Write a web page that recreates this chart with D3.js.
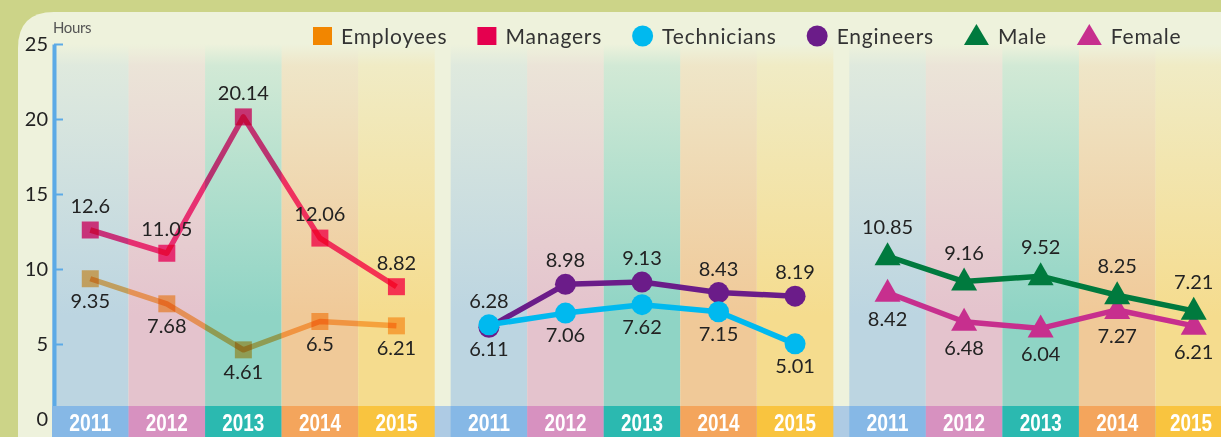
<!DOCTYPE html>
<html>
<head>
<meta charset="utf-8">
<script src="https://cdn.jsdelivr.net/npm/d3@7"></script>
<style>
  html, body { margin: 0; padding: 0; background: #ccd488; }
  svg { display: block; }
  text { font-family: Lato, "Noto Sans", sans-serif; }
</style>
</head>
<body>
<div id="chart"></div>
<script>
// Chart values
const years = ["2011", "2012", "2013", "2014", "2015"];
const employees = [9.35, 7.68, 4.61, 6.5, 6.21];
const managers = [12.6, 11.05, 20.14, 12.06, 8.82];
const technicians = [6.28, 7.06, 7.62, 7.15, 5.01];
const engineers = [6.11, 8.98, 9.13, 8.43, 8.19];
const male = [10.85, 9.16, 9.52, 8.25, 7.21];
const female = [8.42, 6.48, 6.04, 7.27, 6.21];
const yTicks = [0, 5, 10, 15, 20, 25];

const WIDTH = 1221;
const HEIGHT = 437;
const BAND_TOP = 406;

// colours of the year columns (light) and of the year band (strong)
const COLUMN_COLORS = ["#bcd5e1", "#e4c3cd", "#8fd4c5", "#f0c998", "#f5dc8e"];
const BAND_COLORS = ["#86b8e6", "#d791c0", "#2bb9b0", "#f4a55c", "#f9c43f"];

// series table, built from the arrays above
const series = [
  { name: "Employees", values: employees, partner: managers, group: 0, shape: "square", color: "#f28600", line: "#ffbc6c", blend: true },
  { name: "Managers", values: managers, partner: employees, group: 0, shape: "square", color: "#e5004f", line: "#ff3a8a", blend: true },
  { name: "Engineers", values: engineers, partner: technicians, group: 1, shape: "circle", color: "#6b1c89", line: "#6b1c89" },
  { name: "Technicians", values: technicians, partner: engineers, group: 1, shape: "circle", color: "#00b9ef", line: "#00b9ef" },
  { name: "Female", values: female, partner: male, group: 2, shape: "triangle", color: "#c72f8e", line: "#c72f8e" },
  { name: "Male", values: male, partner: female, group: 2, shape: "triangle", color: "#007a3e", line: "#007a3e" }
];
const legendOrder = ["Employees", "Managers", "Technicians", "Engineers", "Male", "Female"];

const svg = d3.select("#chart").append("svg")
  .attr("width", WIDTH)
  .attr("height", HEIGHT);

const defs = svg.append("defs");

// Scales
const y = d3.scaleLinear().domain([0, 25]).range([419, 44]);
const xGroup = d3.scaleBand().domain([0, 1, 2]).range([52, 1232]).paddingInner(0.04);
const xYear = d3.scaleBand().domain(years).range([0, xGroup.bandwidth()]);
const cx = (g, yr) => xGroup(g) + xYear(yr) + xYear.bandwidth() / 2;

// Light panel with rounded top-left corner
const R = 36;
svg.append("path")
  .attr("d", `M18,${HEIGHT} V${12 + R} Q18,12 ${18 + R},12 H${WIDTH} V${HEIGHT} Z`)
  .attr("fill", "#eef2dc");

// Column gradients
COLUMN_COLORS.forEach((c, i) => {
  const grad = defs.append("linearGradient")
    .attr("id", "col" + i)
    .attr("x1", 0).attr("y1", 0).attr("x2", 0).attr("y2", 1);
  grad.append("stop").attr("offset", 0).attr("stop-color", c).attr("stop-opacity", 0);
  grad.append("stop").attr("offset", 0.06).attr("stop-color", c).attr("stop-opacity", 0.3);
  grad.append("stop").attr("offset", 0.75).attr("stop-color", c).attr("stop-opacity", 1);
  grad.append("stop").attr("offset", 1).attr("stop-color", c).attr("stop-opacity", 1);
});

// Year columns for every group
svg.append("g").selectAll("g")
  .data(xGroup.domain())
  .join("g")
  .attr("transform", (g) => `translate(${xGroup(g)},0)`)
  .selectAll("rect")
  .data(years)
  .join("rect")
  .attr("x", (d) => xYear(d))
  .attr("y", y(25))
  .attr("width", xYear.bandwidth())
  .attr("height", BAND_TOP - y(25))
  .attr("fill", (d, i) => `url(#col${i})`);

// Y axis
const axis = svg.append("g")
  .attr("transform", "translate(54,0)")
  .call(d3.axisLeft(y).tickValues(yTicks).tickSizeInner(-9).tickSizeOuter(0).tickPadding(6));
axis.select(".domain").attr("stroke", "#5caae6").attr("stroke-width", 4);
axis.selectAll(".tick line").attr("stroke", "#5caae6").attr("stroke-width", 2);
axis.selectAll(".tick text")
  .attr("fill", "#222")
  .style("font-size", "20px")
  .style("font-family", "Lato, sans-serif");

svg.append("text")
  .attr("x", 53)
  .attr("y", 33)
  .attr("fill", "#555")
  .style("font-size", "15px")
  .style("letter-spacing", "-0.4px")
  .text("Hours");

// Bottom band
svg.append("rect")
  .attr("x", 52)
  .attr("y", BAND_TOP)
  .attr("width", WIDTH - 52)
  .attr("height", HEIGHT - BAND_TOP)
  .attr("fill", "#aecbe4");

const bandGroups = svg.append("g").selectAll("g")
  .data(xGroup.domain())
  .join("g")
  .attr("transform", (g) => `translate(${xGroup(g)},0)`);

bandGroups.selectAll("rect")
  .data(years)
  .join("rect")
  .attr("x", (d) => xYear(d))
  .attr("y", BAND_TOP)
  .attr("width", xYear.bandwidth())
  .attr("height", HEIGHT - BAND_TOP)
  .attr("fill", (d, i) => BAND_COLORS[i]);

// year labels; the last one is kept inside the visible area
bandGroups.selectAll("text")
  .data((g) => years.map((yr) => ({ g: g, yr: yr })))
  .join("text")
  .attr("x", (d) => Math.min(xYear(d.yr) + xYear.bandwidth() / 2, WIDTH - 30 - xGroup(d.g)))
  .attr("y", 430.5)
  .attr("text-anchor", "middle")
  .attr("fill", "#fff")
  .attr("textLength", 42)
  .attr("lengthAdjust", "spacingAndGlyphs")
  .style("font-family", "'Liberation Sans Narrow', 'Liberation Sans', sans-serif")
  .style("font-weight", "bold")
  .style("font-size", "23px")
  .text((d) => d.yr);

// Marker shapes
function markerPath(shape, x, yy) {
  if (shape === "square") {
    return `M${x - 8.5},${yy - 8.5}h17v17h-17Z`;
  }
  if (shape === "circle") {
    return `M${x - 10.5},${yy}a10.5,10.5 0 1,0 21,0a10.5,10.5 0 1,0 -21,0Z`;
  }
  return `M${x},${yy - 14}L${x + 13},${yy + 9}L${x - 13},${yy + 9}Z`;
}

const LABEL_OFFSET = {
  square: { above: -17, below: 29 },
  circle: { above: -17, below: 29 },
  triangle: { above: -22, below: 33 }
};

const line = d3.line().x((d) => d.x).y((d) => d.y);

series.forEach((s) => {
  const pts = s.values.map((v, i) => ({
    x: cx(s.group, years[i]),
    y: y(v),
    v: v,
    above: v >= s.partner[i]
  }));
  const g = svg.append("g");

  g.append("path")
    .datum(pts)
    .attr("d", line)
    .attr("fill", "none")
    .attr("stroke", s.line)
    .attr("stroke-width", 5.5)
    .attr("stroke-linejoin", "round")
    .style("mix-blend-mode", s.blend ? "multiply" : "normal");

  g.selectAll("path.mark")
    .data(pts)
    .join("path")
    .attr("class", "mark")
    .attr("d", (d) => markerPath(s.shape, d.x, d.y))
    .attr("fill", s.line)
    .style("mix-blend-mode", s.blend ? "multiply" : "normal");

  s.labelData = pts;
});

// Value labels drawn last so that they stay on top
series.forEach((s) => {
  svg.append("g").selectAll("text")
    .data(s.labelData)
    .join("text")
    .attr("x", (d) => d.x)
    .attr("y", (d) => d.y + (d.above ? LABEL_OFFSET[s.shape].above : LABEL_OFFSET[s.shape].below))
    .attr("text-anchor", "middle")
    .attr("fill", "#222")
    .style("font-size", "20px")
    .text((d) => String(d.v));
});

// Legend
const legend = svg.append("g").attr("transform", "translate(313,36)");
let lx = 0;
legendOrder.forEach((name) => {
  const s = series.find((d) => d.name === name);
  const item = legend.append("g").attr("transform", `translate(${lx},0)`);
  let w = 19;
  if (s.shape === "square") {
    item.append("rect").attr("x", 0).attr("y", -9).attr("width", 19).attr("height", 18).attr("fill", s.color);
  } else if (s.shape === "circle") {
    w = 21;
    item.append("circle").attr("cx", 10.5).attr("cy", 0).attr("r", 10.5).attr("fill", s.color);
  } else {
    w = 25;
    item.append("path").attr("d", "M12.5,-12L25,9H0Z").attr("fill", s.color);
  }
  const t = item.append("text")
    .attr("x", w + 9)
    .attr("y", 8)
    .attr("fill", "#333")
    .style("font-size", "21px")
    .style("letter-spacing", "0.8px")
    .text(name);
  lx += w + 9 + t.node().getComputedTextLength() + 30;
});
</script>
</body>
</html>
